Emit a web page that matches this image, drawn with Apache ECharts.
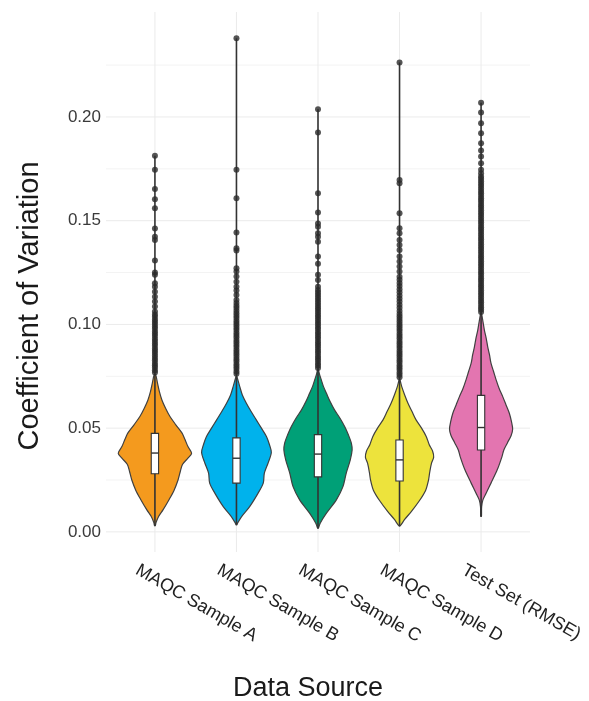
<!DOCTYPE html>
<html><head><meta charset="utf-8">
<script src="https://cdn.jsdelivr.net/npm/echarts@6/dist/echarts.min.js"></script>
<style>html,body{margin:0;padding:0;background:#fff}#c{width:589px;height:701px}</style>
</head><body><div id="c"></div>
<script>
const categories = ['MAQC Sample A', 'MAQC Sample B', 'MAQC Sample C', 'MAQC Sample D', 'Test Set (RMSE)'];
const yTicks = [0, 0.05, 0.10, 0.15, 0.20];
const yMinorTicks = [0.025, 0.075, 0.125, 0.175, 0.225];

// violin profiles: [value, relative half-width]
const violinA = [[0.0030,0.01],[0.0045,0.03],[0.0074,0.10],[0.0106,0.22],[0.0154,0.38],[0.0200,0.52],[0.0250,0.63],[0.0290,0.69],[0.0325,0.75],[0.0355,0.90],[0.0379,1.00],[0.0411,0.90],[0.0445,0.82],[0.0476,0.74],[0.0516,0.57],[0.0556,0.41],[0.0596,0.29],[0.0636,0.19],[0.0677,0.12],[0.0717,0.07],[0.0757,0.02]];
const violinB = [[0.0034,0.01],[0.0042,0.03],[0.0074,0.14],[0.0122,0.36],[0.0187,0.59],[0.0235,0.73],[0.0283,0.76],[0.0331,0.86],[0.0383,0.95],[0.0420,0.90],[0.0459,0.82],[0.0500,0.68],[0.0540,0.54],[0.0580,0.40],[0.0620,0.27],[0.0660,0.16],[0.0700,0.09],[0.0749,0.01]];
const violinC = [[0.0018,0.01],[0.0042,0.06],[0.0090,0.23],[0.0154,0.50],[0.0218,0.68],[0.0283,0.77],[0.0347,0.88],[0.0395,0.93],[0.0427,0.91],[0.0467,0.83],[0.0507,0.73],[0.0548,0.60],[0.0588,0.45],[0.0628,0.33],[0.0668,0.23],[0.0700,0.15],[0.0733,0.09],[0.0760,0.04],[0.0781,0.01]];
const violinD = [[0.0030,0.02],[0.0060,0.14],[0.0100,0.33],[0.0150,0.54],[0.0200,0.71],[0.0250,0.79],[0.0285,0.82],[0.0330,0.87],[0.0360,0.93],[0.0390,0.90],[0.0420,0.81],[0.0459,0.73],[0.0500,0.60],[0.0540,0.45],[0.0580,0.34],[0.0620,0.23],[0.0660,0.14],[0.0700,0.06],[0.0733,0.01]];
const violinE = [[0.0075,0.01],[0.0120,0.015],[0.0154,0.05],[0.0187,0.14],[0.0235,0.27],[0.0299,0.44],[0.0363,0.57],[0.0395,0.62],[0.0430,0.72],[0.0465,0.82],[0.0495,0.86],[0.0530,0.83],[0.0572,0.77],[0.0612,0.68],[0.0652,0.59],[0.0692,0.49],[0.0733,0.41],[0.0773,0.34],[0.0813,0.27],[0.0853,0.23],[0.0893,0.18],[0.0933,0.14],[0.0973,0.09],[0.1015,0.05],[0.1054,0.01]];

// box stats: [min, q1, median, q3, max]
const boxA = [0.0030, 0.0280, 0.0380, 0.0475, 0.1813];
const boxB = [0.0034, 0.0235, 0.0355, 0.0453, 0.2379];
const boxC = [0.0018, 0.0265, 0.0375, 0.0469, 0.2037];
const boxD = [0.0026, 0.0245, 0.0347, 0.0443, 0.2263];
const boxE = [0.0075, 0.0395, 0.0503, 0.0658, 0.2069];

const outliersA = [0.0768,0.0779,0.0792,0.0803,0.0814,0.0827,0.0838,0.0850,0.0862,0.0873,0.0884,0.0897,0.0908,0.0920,0.0931,0.0944,0.0955,0.0966,0.0979,0.0990,0.1002,0.1013,0.1024,0.1037,0.1048,0.1062,0.1086,0.1110,0.1134,0.1158,0.1182,0.1198,0.1239,0.1250,0.1308,0.1407,0.1423,0.1462,0.1560,0.1603,0.1653,0.1745,0.1813];
const outliersB = [0.0762,0.0773,0.0786,0.0797,0.0808,0.0821,0.0832,0.0844,0.0856,0.0867,0.0878,0.0891,0.0902,0.0914,0.0925,0.0938,0.0949,0.0960,0.0973,0.0984,0.0996,0.1007,0.1018,0.1031,0.1042,0.1054,0.1066,0.1079,0.1090,0.1103,0.1118,0.1142,0.1163,0.1182,0.1206,0.1231,0.1255,0.1271,0.1356,0.1367,0.1443,0.1608,0.1745,0.2379];
const outliersC = [0.0790,0.0802,0.0813,0.0826,0.0837,0.0848,0.0861,0.0872,0.0884,0.0896,0.0907,0.0918,0.0931,0.0942,0.0954,0.0965,0.0978,0.0989,0.1001,0.1012,0.1024,0.1036,0.1047,0.1059,0.1071,0.1082,0.1094,0.1106,0.1118,0.1130,0.1142,0.1154,0.1166,0.1182,0.1214,0.1239,0.1292,0.1327,0.1399,0.1423,0.1440,0.1471,0.1487,0.1539,0.1632,0.1925,0.2037];
const outliersD = [0.0745,0.0757,0.0768,0.0781,0.0792,0.0803,0.0816,0.0827,0.0839,0.0851,0.0862,0.0873,0.0886,0.0897,0.0909,0.0920,0.0933,0.0944,0.0955,0.0968,0.0979,0.0991,0.1002,0.1014,0.1026,0.1038,0.1050,0.1065,0.1080,0.1095,0.1110,0.1125,0.1140,0.1155,0.1170,0.1185,0.1200,0.1215,0.1230,0.1255,0.1279,0.1303,0.1327,0.1359,0.1383,0.1407,0.1440,0.1463,0.1536,0.1680,0.1696,0.2263];
const outliersE = [0.1060,0.1072,0.1083,0.1095,0.1107,0.1118,0.1130,0.1142,0.1153,0.1165,0.1177,0.1188,0.1200,0.1212,0.1223,0.1235,0.1247,0.1258,0.1270,0.1282,0.1293,0.1305,0.1317,0.1328,0.1340,0.1352,0.1363,0.1375,0.1387,0.1398,0.1410,0.1422,0.1433,0.1445,0.1457,0.1468,0.1480,0.1492,0.1503,0.1515,0.1527,0.1538,0.1550,0.1562,0.1573,0.1585,0.1597,0.1608,0.1620,0.1632,0.1643,0.1655,0.1667,0.1678,0.1690,0.1702,0.1713,0.1729,0.1745,0.1777,0.1809,0.1838,0.1873,0.1921,0.1970,0.2021,0.2069];

const violins = [violinA, violinB, violinC, violinD, violinE];
const boxes = [boxA, boxB, boxC, boxD, boxE];
const outliers = [outliersA, outliersB, outliersC, outliersD, outliersE];

// styling / layout
const fills = ['#F49A1E', '#00B2EC', '#00A077', '#EDE33C', '#E375B0'];
const X_MIN = 0.4, X_MAX = 5.6, Y_MIN = -0.0097, Y_MAX = 0.2506;
const HALF = 0.45, BOX_HALF = 0.045;
const LABEL_SHIFT = -0.22;
const labelPos = categories.map((c, i) => i + 1 + LABEL_SHIFT);
const FONT = 'Liberation Sans, Arial, Helvetica, sans-serif';

const chart = echarts.init(document.getElementById('c'), null, {renderer: 'canvas'});

const gridItems = []
  .concat(yTicks.map(v => ['h', v, 1]))
  .concat(yMinorTicks.map(v => ['h', v, 0]))
  .concat(categories.map((c, i) => ['v', i + 1, 1]));

const option = {
  animation: false,
  backgroundColor: '#ffffff',
  grid: {left: 106, right: 59, top: 12, bottom: 149, containLabel: false, outerBoundsMode: 'none'},
  xAxis: {
    type: 'value', min: X_MIN, max: X_MAX,
    axisLine: {show: false}, axisTick: {show: false}, splitLine: {show: false},
    axisLabel: {
      customValues: labelPos, rotate: -30, margin: 17, fontSize: 18, color: '#222',
      fontFamily: FONT,
      formatter: function (v) {
        for (let i = 0; i < labelPos.length; i++) if (Math.abs(labelPos[i] - v) < 1e-6) return categories[i];
        return '';
      }
    },
    name: 'Data Source', nameLocation: 'middle', nameGap: 123,
    nameTextStyle: {fontSize: 27, color: '#1a1a1a', fontFamily: FONT, padding: [0, 20, 0, 0]}
  },
  yAxis: {
    type: 'value', min: Y_MIN, max: Y_MAX,
    axisLine: {show: false}, axisTick: {show: false}, splitLine: {show: false},
    axisLabel: {
      customValues: yTicks, margin: 5, fontSize: 17, color: '#3a3a3a', fontFamily: FONT,
      formatter: v => v.toFixed(2)
    },
    name: 'Coefficient of Variation', nameLocation: 'middle', nameGap: 62,
    nameTextStyle: {fontSize: 29, color: '#1a1a1a', fontFamily: FONT, padding: [0, 48, 0, 0]}
  },
  series: [
    {
      type: 'custom', silent: true, z: 1,
      data: gridItems.map((g, i) => [i]),
      renderItem: function (params, api) {
        const g = gridItems[params.dataIndex];
        let p1, p2;
        if (g[0] === 'h') { p1 = api.coord([X_MIN, g[1]]); p2 = api.coord([X_MAX, g[1]]); }
        else { p1 = api.coord([g[1], Y_MIN]); p2 = api.coord([g[1], Y_MAX]); }
        return {type: 'line', shape: {x1: p1[0], y1: p1[1], x2: p2[0], y2: p2[1]},
          style: {stroke: g[2] ? '#ebebeb' : '#f3f3f3', lineWidth: 1}};
      }
    },
    {
      type: 'custom', silent: true, z: 2,
      data: categories.map((c, i) => [i + 1]),
      renderItem: function (params, api) {
        const i = params.dataIndex;
        const cx = i + 1;
        const prof = violins[i];
        const b = boxes[i];
        const pts = [];
        prof.forEach(p => pts.push(api.coord([cx + p[1] * HALF, p[0]])));
        for (let k = prof.length - 1; k >= 0; k--) pts.push(api.coord([cx - prof[k][1] * HALF, prof[k][0]]));
        const lo = api.coord([cx, b[0]]), hi = api.coord([cx, b[4]]);
        const bl = api.coord([cx - BOX_HALF, b[3]]), br = api.coord([cx + BOX_HALF, b[1]]);
        const ml = api.coord([cx - BOX_HALF, b[2]]), mr = api.coord([cx + BOX_HALF, b[2]]);
        return {type: 'group', children: [
          {type: 'polygon', shape: {points: pts, smooth: 0.3},
            style: {fill: fills[i], stroke: '#404040', lineWidth: 1.2}},
          {type: 'line', shape: {x1: lo[0], y1: lo[1], x2: hi[0], y2: hi[1]},
            style: {stroke: '#333', lineWidth: 1.6}},
          {type: 'rect', shape: {x: bl[0], y: bl[1], width: br[0] - bl[0], height: br[1] - bl[1]},
            style: {fill: '#ffffff', stroke: '#333', lineWidth: 1.1}},
          {type: 'line', shape: {x1: ml[0], y1: ml[1], x2: mr[0], y2: mr[1]},
            style: {stroke: '#333', lineWidth: 1.4}}
        ]};
      }
    },
    {
      type: 'scatter', silent: true, z: 3,
      symbol: 'circle', symbolSize: 6,
      itemStyle: {color: '#2b2b2b'},
      data: outliers.flatMap((arr, i) => arr.map(v => [i + 1, v]))
    }
  ]
};
chart.setOption(option);
</script>
</body></html>
